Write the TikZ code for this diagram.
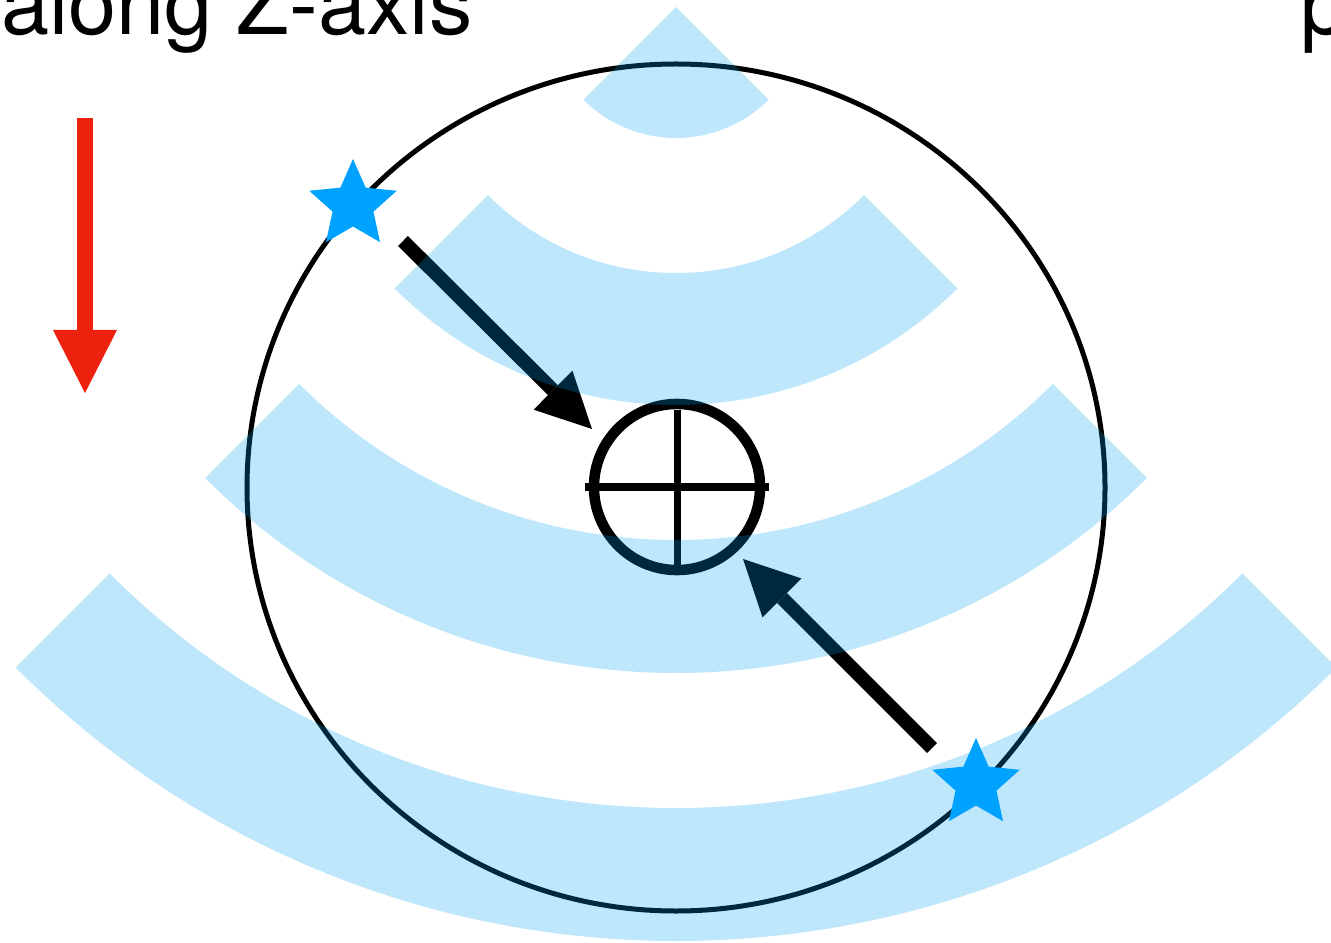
\documentclass[tikz,border=0pt]{standalone}
\usepackage{fontspec}
\setmainfont{TeX Gyre Heros}
\usetikzlibrary{arrows.meta,shapes.geometric,calc}
\definecolor{bandblue}{RGB}{0,160,240}
\definecolor{starblue}{RGB}{0,162,255}
\definecolor{redarrow}{RGB}{237,34,14}
\begin{document}
\begin{tikzpicture}[x=0.01cm,y=0.01cm,
  band/.style={fill=bandblue, fill opacity=0.25},
  bigtext/.style={inner sep=0pt, font=\fontsize{24.6pt}{30pt}\selectfont},
  starfill/.style={fill=starblue, draw=none},
  blkarrow/.style={black, line width=0.14cm, -{Triangle[length=0.55cm,width=0.55cm,line width=0pt]}},
  redarr/.style={redarrow, line width=0.16cm, -{Triangle[length=0.63cm,width=0.64cm,line width=0pt]}}]
\useasboundingbox (0,0) rectangle (1331,942);
\clip (0,0) rectangle (1331,942);

% texts
\node[bigtext, anchor=base east] (lbl) at (473,907) {along Z-axis};
\node[bigtext, anchor=base west] (ptxt) at (1300,907) {p};

% red arrow
\coordinate (r1) at (85,824);
\coordinate (r2) at (85,549);
\draw[redarr] (r1) -- (r2);

% big circle
\draw[line width=0.05cm] (676,454.5) ellipse [x radius=429, y radius=423.5];

% target
\node[circle, draw, line width=0.105cm, minimum size=1.66cm, inner sep=0pt] (tgt) at (677,455) {};
\draw[line width=0.07cm] (tgt.center) ++(-92,0) -- ++(184,0);
\draw[line width=0.065cm] (tgt.center) ++(0.5,77) -- ++(0,-155);

% arrows
\coordinate (a1s) at (403,701);
\coordinate (a1e) at (592,513);
\coordinate (a2s) at (932,194);
\coordinate (a2e) at (743,383);
\draw[blkarrow] (a1s) -- (a1e);
\draw[blkarrow] (a2s) -- (a2e);

% bands
\coordinate (wc) at (676,935);
\fill[band] (wc) -- ++(225:131) arc[start angle=225,end angle=315,radius=131] -- cycle;
\foreach \ri/\ro in {266/398, 533/666, 801/934} {
  \fill[band] ($(wc)+(225:\ro)$) arc[start angle=225,end angle=315,radius=\ro]
    -- ($(wc)+(315:\ri)$) arc[start angle=315,end angle=225,radius=\ri] -- cycle;
}

% stars
\coordinate (s1) at (353,737);
\coordinate (s2) at (976,158);
\foreach \s in {s1,s2} {
  \fill[starfill] ($(\s)+(90:46)$)
    \foreach \a/\r in {126/21.5,162/46,198/21.5,234/46,270/21.5,306/46,342/21.5,18/46,54/21.5} { -- ($(\s)+(\a:\r)$) } -- cycle;
}
\end{tikzpicture}
\end{document}
